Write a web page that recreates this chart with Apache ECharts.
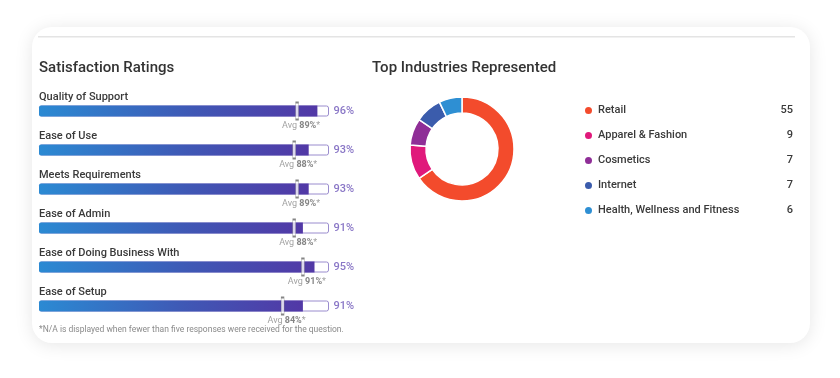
<!DOCTYPE html>
<html><head><meta charset="utf-8">
<script src="https://cdn.jsdelivr.net/npm/echarts@6/dist/echarts.min.js"></script>
<style>html,body{margin:0;padding:0;background:#fff}#c{width:840px;height:378px}</style>
</head><body><div id="c"></div>
<script>
const ratingCategories = ['Quality of Support','Ease of Use','Meets Requirements','Ease of Admin','Ease of Doing Business With','Ease of Setup'];
const ratingValues = [96, 93, 93, 91, 95, 91];
const avgValues = [89, 88, 89, 88, 91, 84];
const industryNames = ['Retail','Apparel & Fashion','Cosmetics','Internet','Health, Wellness and Fitness'];
const industryCounts = [55, 9, 7, 7, 6];
const industryColors = ['#f34b2c','#e0197b','#8f2e97','#3b5cac','#2e8fd3'];

const FONT = 'Roboto';
const chart = echarts.init(document.getElementById('c'));
const countMap = {};
industryNames.forEach((n,i)=>countMap[n]=industryCounts[i]);

chart.setOption({
  animation: false,
  textStyle: {fontFamily: FONT},
  graphic: [
    {type:'rect', shape:{x:32,y:27,width:778,height:316,r:20}, style:{fill:'#fff', shadowBlur:18, shadowColor:'rgba(0,0,0,0.10)', shadowOffsetY:2}, z:-10},
    {type:'rect', shape:{x:38,y:36,width:757,height:1.5}, style:{fill:'#e4e4e4'}, z:-5},
    {type:'text', left:39, top:61, style:{text:'Satisfaction Ratings', font:'500 15px '+FONT, fill:'#333'}},
    {type:'text', left:372, top:61, style:{text:'Top Industries Represented', font:'500 15px '+FONT, fill:'#333'}},
    {type:'text', left:39, top:325, style:{text:'*N/A is displayed when fewer than five responses were received for the question.', font:'8.5px '+FONT, fill:'#8a8a8a'}}
  ],
  grid: {left:39, top:91.5, width:290, height:234},
  xAxis: {type:'value', min:0, max:100, show:false},
  yAxis: {type:'category', data:ratingCategories, inverse:true, show:false},
  legend: {
    orient:'vertical', left:578, top:100, itemGap:14, itemWidth:9, itemHeight:9, icon:'circle',
    data: industryNames,
    formatter: n => `{n|${n}}{v|${countMap[n]}}`,
    textStyle: {rich:{
      n:{width:165, height:13, fontSize:11, color:'#3a3a3a', fontFamily:FONT, fontWeight:500},
      v:{width:30, height:13, align:'right', fontSize:11, color:'#3a3a3a', fontFamily:FONT, fontWeight:500}
    }}
  },
  series: [
    {type:'bar', name:'track', data:ratingValues.map(()=>100), barWidth:11, barGap:'-100%',
     itemStyle:{color:'#fff', borderColor:'#9a8cce', borderWidth:1, borderRadius:2},
     label:{show:true, position:[0,-14], formatter:p=>ratingCategories[p.dataIndex], color:'#3a3a3a', fontSize:11, fontWeight:500, fontFamily:FONT},
     silent:true, z:1},
    {type:'bar', name:'value', data:ratingValues, barWidth:11, barGap:'-100%',
     itemStyle:{borderRadius:[2,0,0,2], color:new echarts.graphic.LinearGradient(0,0,1,0,[{offset:0,color:'#2b8ad3'},{offset:0.55,color:'#3f58b5'},{offset:1,color:'#5238a6'}])},
     z:2},
    {type:'scatter', data:ratingValues.map((v,i)=>[100,i]), symbolSize:1, itemStyle:{color:'transparent'},
     label:{show:true, position:'right', distance:4, formatter:p=>ratingValues[p.dataIndex]+'%', color:'#6b54b8', fontSize:11, fontWeight:500, fontFamily:FONT}, z:3},
    {type:'scatter', data:avgValues.map((v,i)=>[v,i]), symbol:'rect', symbolSize:[3,17],
     itemStyle:{color:'#fff', borderColor:'#666', borderWidth:0.8},
     label:{show:true, position:'bottom', distance:1, offset:[4,0],
       formatter:p=>`{a|Avg }{b|${avgValues[p.dataIndex]}%}{a|*}`,
       rich:{a:{fontSize:9, color:'#8a8a8a', fontFamily:FONT}, b:{fontSize:9, color:'#666', fontWeight:'bold', fontFamily:FONT}}},
     z:4},
    {type:'pie', center:[462,149], radius:[36,52], startAngle:90, clockwise:true,
     label:{show:false}, labelLine:{show:false},
     itemStyle:{borderColor:'#fff', borderWidth:1.5},
     data: industryNames.map((n,i)=>({name:n, value:industryCounts[i], itemStyle:{color:industryColors[i]}}))}
  ]
});
</script></body></html>
